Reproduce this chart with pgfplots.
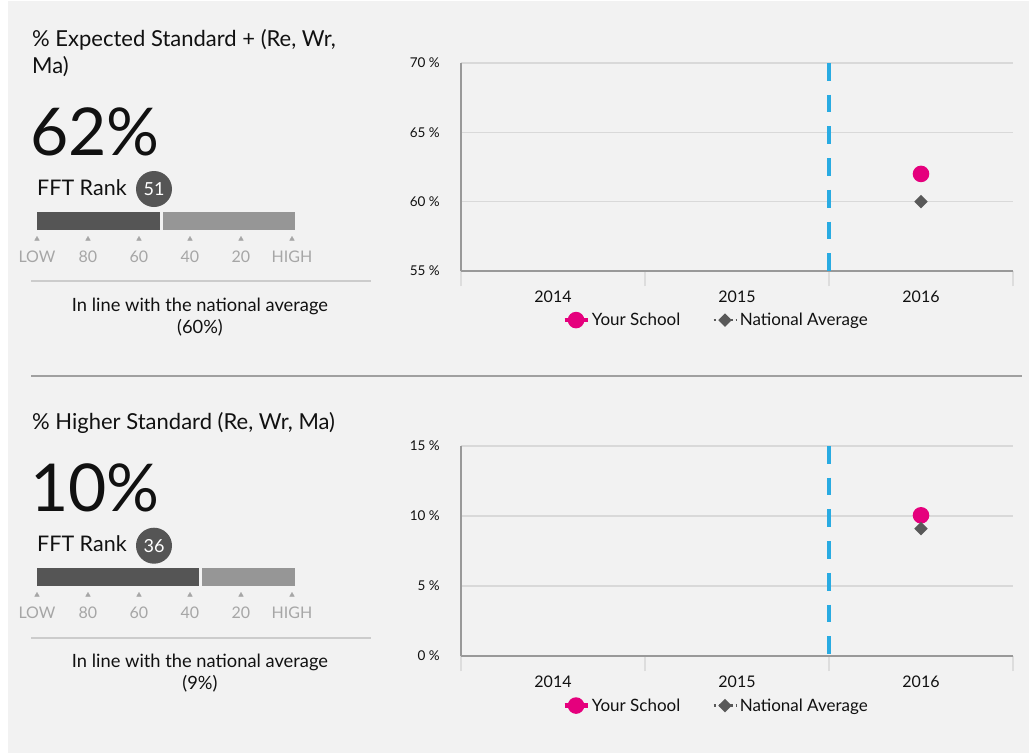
\documentclass[border=0pt]{standalone}
\usepackage{pgfplots}
\pgfplotsset{compat=1.18}
\usepackage{fontspec}
\setmainfont{Lato}
\definecolor{bg}{HTML}{F2F2F2}
\definecolor{txt}{HTML}{111111}
\definecolor{pinkc}{HTML}{E5007D}
\definecolor{natc}{HTML}{595959}
\definecolor{bluec}{HTML}{29ABE2}
\definecolor{axisc}{HTML}{999999}
\definecolor{gridc}{HTML}{D9D9D9}
\definecolor{tickc}{HTML}{DDDDDD}
\definecolor{darkbar}{HTML}{555555}
\definecolor{lightbar}{HTML}{969696}
\definecolor{rankl}{HTML}{A6A6A6}
\definecolor{sepl}{HTML}{CCCCCC}
\definecolor{mainsep}{HTML}{A0A0A0}
\newcommand{\fsz}[1]{\fontsize{#1}{#1}\selectfont}
\pgfplotsset{
  rankaxis/.style={anchor=north west, width=255pt, height=18pt, scale only axis,
    xmin=0, xmax=100, x dir=reverse, ymin=-0.5, ymax=0.5, clip=false,
    axis line style={draw=none}, ytick=\empty,
    xtick={100,80,60,40,20,0}, xticklabels={LOW,80,60,40,20,HIGH},
    major tick length=0pt, tick style={draw=none},
    xticklabel style={anchor=base, yshift=-32pt, text=rankl, font=\fsz{16}}},
  chartaxis/.style={anchor=north west, width=552pt, scale only axis,
    xmin=-0.5, xmax=2.5, clip=false,
    axis x line*=bottom, axis y line*=left,
    axis line style={axisc, line width=1.5pt},
    ymajorgrids, grid style={gridc, line width=1.2pt},
    xtick={-0.5,0.5,1.5,2.5}, x tick label as interval,
    xticklabels={2014,2015,2016,},
    xtick style={draw=tickc, line width=1.2pt}, major tick length=15pt, tick align=outside,
    ytick style={draw=none},
    xticklabel style={anchor=base, yshift=-16.5pt, font=\fsz{16}, text=txt},
    yticklabel style={anchor=east, inner sep=0pt, xshift=-6pt, font=\fsz{13.5}, text=txt},
    legend columns=2, legend cell align=left,
    legend style={at={(0.462,-0.236)}, anchor=center, draw=none, fill=none, font=\fsz{17}, text=txt,
      /tikz/every even column/.append style={column sep=30pt}},
    legend image code/.code={\draw[mark repeat=2,mark phase=2,##1] plot coordinates {(0pt,0pt) (11.5pt,0pt) (23pt,0pt)};}},
  schoolplot/.style={pinkc, line width=4.5pt, mark=*, mark size=6pt, mark options={solid, fill=pinkc, draw=none}},
  natplot/.style={natc, line width=2.5pt, dash pattern=on 2.5pt off 3pt, mark=square*, mark size=3.5pt, mark options={solid, rotate=45, fill=natc, draw=none}},
  blueplot/.style={bluec, line width=4.5pt, dash pattern=on 17.7pt off 14pt, forget plot}
}
\begin{document}
\begin{tikzpicture}[x=1pt,y=1pt]
\path[use as bounding box, fill=white] (0,0) rectangle (1029,-753);
\fill[bg] (8,-1) rectangle (1029,-753);

% ---------- top panel ----------
\node[anchor=base west, inner sep=0pt, text=txt] at (32,-46) {\fsz{22}\% Expected Standard + (Re, Wr,};
\node[anchor=base west, inner sep=0pt, text=txt] at (32,-73) {\fsz{22}Ma)};
\node[anchor=base west, inner sep=0pt, text=txt] at (30,-155) {\fsz{66}62\%};
\node[anchor=base west, inner sep=0pt, text=txt] at (37,-195) {\fsz{21.5}FFT Rank};
\fill[darkbar] (154,-189) circle (18);
\node[inner sep=0pt, text=white] at (154,-189) {\fsz{18}51};
\draw[sepl, line width=1.5pt] (31,-281) -- (371,-281);
\node[anchor=base, inner sep=0pt, text=txt] at (200,-311.7) {\fsz{18.3}In line with the national average};
\node[anchor=base, inner sep=0pt, text=txt] at (200,-333) {\fsz{18.3}(60\%)};

\begin{axis}[rankaxis, at={(37pt,-212pt)}]
\addplot[fill=darkbar, draw=none] coordinates {(100,-0.5) (51.6,-0.5) (51.6,0.5) (100,0.5)} -- cycle;
\addplot[fill=lightbar, draw=none] coordinates {(50.4,-0.5) (-1.2,-0.5) (-1.2,0.5) (50.4,0.5)} -- cycle;
\addplot[only marks, mark=triangle*, mark size=2.6pt, rankl] coordinates {(100,-1) (80,-1) (60,-1) (40,-1) (20,-1) (0,-1)};
\end{axis}

\begin{axis}[chartaxis, at={(461pt,-63pt)}, height=208pt,
  ymin=55, ymax=70, ytick={55,60,65,70}, yticklabels={55 \%,60 \%,65 \%,70 \%}]
\addplot[blueplot] coordinates {(1.5,70) (1.5,55)};
\addplot[schoolplot] coordinates {(2,62)};
\addlegendentry{Your School}
\addplot[natplot] coordinates {(2,60)};
\addlegendentry{National Average}
\end{axis}

\draw[mainsep, line width=2pt] (31,-376) -- (1022,-376);

% ---------- bottom panel ----------
\node[anchor=base west, inner sep=0pt, text=txt] at (32,-429) {\fsz{22}\% Higher Standard (Re, Wr, Ma)};
\node[anchor=base west, inner sep=0pt, text=txt] at (30,-511.7) {\fsz{66}10\%};
\node[anchor=base west, inner sep=0pt, text=txt] at (37,-551.7) {\fsz{21.5}FFT Rank};
\fill[darkbar] (154,-545.7) circle (18);
\node[inner sep=0pt, text=white] at (154,-545.7) {\fsz{18}36};
\draw[sepl, line width=1.5pt] (31,-638) -- (371,-638);
\node[anchor=base, inner sep=0pt, text=txt] at (200,-667.3) {\fsz{18.3}In line with the national average};
\node[anchor=base, inner sep=0pt, text=txt] at (200,-689) {\fsz{18.3}(9\%)};

\begin{axis}[rankaxis, at={(37pt,-568pt)}]
\addplot[fill=darkbar, draw=none] coordinates {(100,-0.5) (36.6,-0.5) (36.6,0.5) (100,0.5)} -- cycle;
\addplot[fill=lightbar, draw=none] coordinates {(35.4,-0.5) (-1.2,-0.5) (-1.2,0.5) (35.4,0.5)} -- cycle;
\addplot[only marks, mark=triangle*, mark size=2.6pt, rankl] coordinates {(100,-1) (80,-1) (60,-1) (40,-1) (20,-1) (0,-1)};
\end{axis}

\begin{axis}[chartaxis, at={(461pt,-446pt)}, height=210pt,
  ymin=0, ymax=15, ytick={0,5,10,15}, yticklabels={0 \%,5 \%,10 \%,15 \%}]
\addplot[blueplot] coordinates {(1.5,15) (1.5,0)};
\addplot[schoolplot] coordinates {(2,10.05)};
\addlegendentry{Your School}
\addplot[natplot] coordinates {(2,9.1)};
\addlegendentry{National Average}
\end{axis}
\end{tikzpicture}
\end{document}
